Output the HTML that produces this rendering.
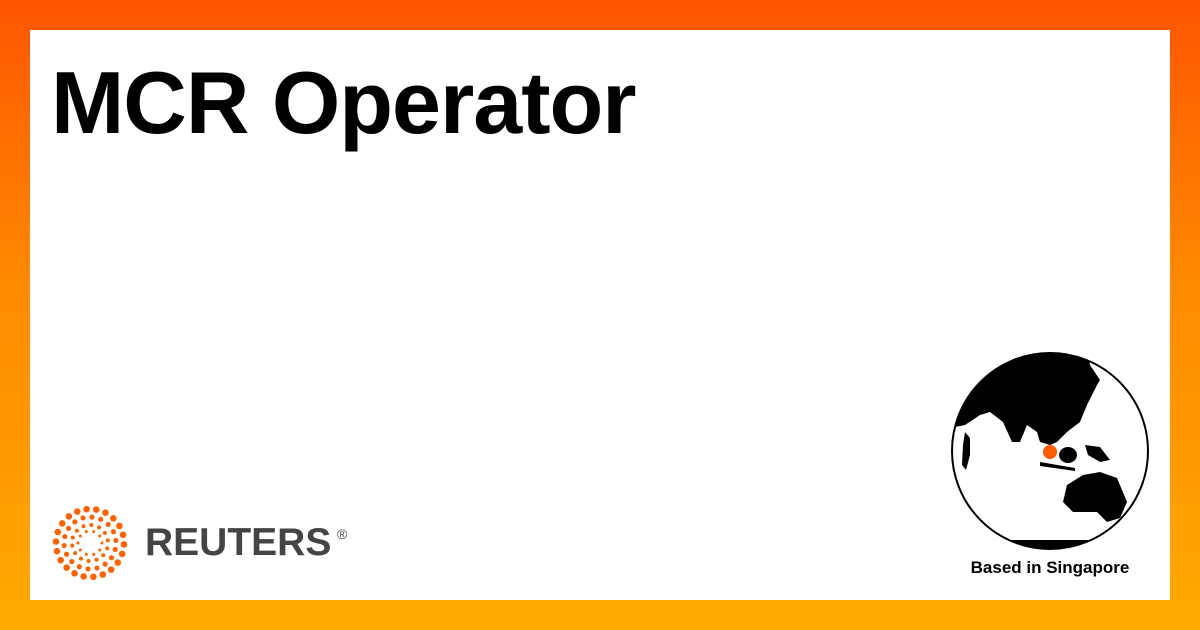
<!DOCTYPE html>
<html><head><meta charset="utf-8"><style>
html,body{margin:0;padding:0}
body{width:1200px;height:630px;background:linear-gradient(#ff5500,#ff8a00 45%,#ffaa00);position:relative;overflow:hidden;font-family:"Liberation Sans",sans-serif}
#panel{position:absolute;left:30px;top:30px;width:1140px;height:570px;background:#fff}
#title{position:absolute;left:51px;top:50px;font-size:88px;font-weight:bold;color:#000;letter-spacing:-1px;margin:0;line-height:1.2}
#brand{position:absolute;left:145px;top:521px;font-size:39px;font-weight:bold;color:#444;letter-spacing:0}
#reg{position:absolute;left:337px;top:526px;font-size:14px;color:#444}
#based{position:absolute;left:950px;top:558px;width:200px;text-align:center;font-size:17px;font-weight:bold;color:#000}
</style></head><body>
<div id="panel"></div>
<h1 id="title">MCR Operator</h1>
<svg id="logo" width="100" height="100" style="position:absolute;left:40px;top:493px"></svg>
<div id="brand">REUTERS</div>
<div id="reg">®</div>
<svg width="1200" height="630" style="position:absolute;left:0;top:0">
<defs><clipPath id="gc"><circle cx="1050" cy="451" r="98"/></clipPath></defs>
<circle cx="1050" cy="451" r="98" fill="#fff"/>
<g clip-path="url(#gc)" fill="#000">
<polygon points="940,340 1085,340 1090,365 1100,380 1097,385 1087,405 1080,422 1067,432 1057,442 1050,445 1040,442 1037,432 1027,425 1020,442 1012,442 1003,422 990,412 980,415 965,425 940,430"/>
<polygon points="965,432 970,438 970,455 966,470 962,465 963,445"/>
<polygon points="1067,485 1083,475 1100,472 1117,478 1127,502 1120,518 1107,522 1097,512 1073,512 1063,502"/>
<ellipse cx="1068" cy="455" rx="9" ry="8"/>
<polygon points="1040,462 1075,468 1075,471 1040,466"/>
<polygon points="1085,445 1100,447 1110,460 1100,462 1088,455"/>
<polygon points="1000,540 1100,540 1100,560 1000,560"/>
</g>
<circle cx="1050" cy="451" r="98" fill="none" stroke="#000" stroke-width="2"/>
<circle cx="1050" cy="452" r="7" fill="#ff5a00"/>
</svg>
<div id="based">Based in Singapore</div>
<script>
var s=document.getElementById('logo');
var rings=[[12,10,1.5],[18,14,2.0],[26,18,2.6],[34,22,3.3]];
rings.forEach(function(r,i){
  for(var k=0;k<r[1];k++){
    var a=2*Math.PI*k/r[1]+i*0.3;
    var c=document.createElementNS('http://www.w3.org/2000/svg','circle');
    
    
    c.setAttribute('cx',50+r[0]*Math.cos(a));c.setAttribute('cy',50+r[0]*Math.sin(a));
    c.setAttribute('r',r[2]);c.setAttribute('fill','#fa6400');s.appendChild(c);
  }
});
</script>
</body></html>
